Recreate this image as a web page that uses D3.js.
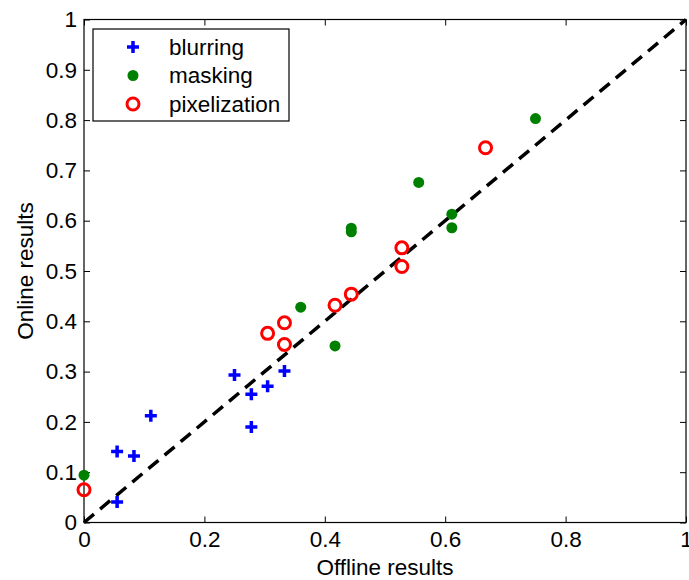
<!DOCTYPE html>
<html>
<head>
<meta charset="utf-8">
<script src="https://cdn.jsdelivr.net/npm/d3@7"></script>
<style>
  body { margin: 0; background: #fff; }
  text { font-family: "Liberation Sans", Arial, sans-serif; }
</style>
</head>
<body>
<svg id="drawing_region"></svg>
<script>
// series: offline (x) vs online (y) results
const blurringX = [0.055, 0.055, 0.083, 0.111, 0.25, 0.278, 0.278, 0.305, 0.333];
const blurringY = [0.041, 0.141, 0.132, 0.212, 0.293, 0.255, 0.190, 0.271, 0.301];
const maskingX = [0, 0.36, 0.417, 0.444, 0.444, 0.556, 0.611, 0.611, 0.75];
const maskingY = [0.094, 0.428, 0.351, 0.578, 0.585, 0.676, 0.613, 0.586, 0.803];
const pixelX = [0, 0.305, 0.333, 0.333, 0.417, 0.444, 0.528, 0.528, 0.667];
const pixelY = [0.065, 0.376, 0.397, 0.354, 0.432, 0.454, 0.546, 0.509, 0.745];
const xTicks = [0, 0.2, 0.4, 0.6, 0.8, 1];
const yTicks = [0, 0.1, 0.2, 0.3, 0.4, 0.5, 0.6, 0.7, 0.8, 0.9, 1];
const legendLabels = ['blurring', 'masking', 'pixelization'];

const width = 689, height = 580;
const margin = { left: 84, right: 3, top: 19.5, bottom: 57.5 };
const innerW = width - margin.left - margin.right;
const innerH = height - margin.top - margin.bottom;
const fontSize = '22.5px';

const svg = d3.select('#drawing_region')
    .attr('width', width)
    .attr('height', height);

const g = svg.append('g')
    .attr('transform', `translate(${margin.left}, ${margin.top})`);

const x = d3.scaleLinear().domain([0, 1]).range([0, innerW]);
const y = d3.scaleLinear().domain([0, 1]).range([innerH, 0]);

const fmt = d => d === 0 ? '0' : d === 1 ? '1' : d3.format('.1f')(d);

// axes with inward ticks on all four sides
const axisStyle = sel => {
    sel.select('.domain').remove();
    sel.selectAll('line').attr('stroke', '#000').attr('stroke-width', 1);
    sel.selectAll('text').attr('fill', '#000').style('font-size', fontSize);
};

g.append('g').attr('transform', `translate(0,${innerH})`)
    .call(d3.axisBottom(x).tickValues(xTicks).tickFormat(fmt).tickSizeInner(-6).tickSizeOuter(0).tickPadding(9))
    .call(axisStyle);
g.append('g')
    .call(d3.axisTop(x).tickValues(xTicks).tickFormat('').tickSizeInner(-6).tickSizeOuter(0))
    .call(axisStyle);
g.append('g')
    .call(d3.axisLeft(y).tickValues(yTicks).tickFormat(fmt).tickSizeInner(-6).tickSizeOuter(0).tickPadding(7))
    .call(axisStyle);
g.append('g').attr('transform', `translate(${innerW},0)`)
    .call(d3.axisRight(y).tickValues(yTicks).tickFormat('').tickSizeInner(-6).tickSizeOuter(0))
    .call(axisStyle);

g.append('rect')
    .attr('width', innerW).attr('height', innerH)
    .attr('fill', 'none').attr('stroke', '#000').attr('stroke-width', 1.2);

// diagonal reference
g.append('line')
    .attr('x1', x(0)).attr('y1', y(0))
    .attr('x2', x(1)).attr('y2', y(1))
    .attr('stroke', '#000').attr('stroke-width', 3.5)
    .attr('stroke-dasharray', '13,8');

const plus = (s) => `M${-s},0H${s}M0,${-s}V${s}`;

g.selectAll('.blur')
    .data(d3.zip(blurringX, blurringY))
    .enter().append('path')
    .attr('transform', d => `translate(${x(d[0])},${y(d[1])})`)
    .attr('d', plus(6))
    .attr('stroke', '#0000ff').attr('stroke-width', 3.5).attr('fill', 'none');

g.selectAll('.mask')
    .data(d3.zip(maskingX, maskingY))
    .enter().append('circle')
    .attr('cx', d => x(d[0])).attr('cy', d => y(d[1]))
    .attr('r', 5.5)
    .attr('fill', '#008000');

g.selectAll('.pix')
    .data(d3.zip(pixelX, pixelY))
    .enter().append('circle')
    .attr('cx', d => x(d[0])).attr('cy', d => y(d[1]))
    .attr('r', 6)
    .attr('fill', 'none').attr('stroke', '#ff0000').attr('stroke-width', 3);

// legend
const lg = svg.append('g').attr('transform', 'translate(93,29)');
lg.append('rect')
    .attr('width', 196).attr('height', 92)
    .attr('fill', '#fff').attr('stroke', '#000').attr('stroke-width', 1.2);

legendLabels.forEach((label, i) => {
    const cy = 18 + i * 28.5;
    const mx = 40;
    if (i === 0) {
        lg.append('path').attr('transform', `translate(${mx},${cy})`)
            .attr('d', plus(6)).attr('stroke', '#0000ff').attr('stroke-width', 3.5);
    } else if (i === 1) {
        lg.append('circle').attr('cx', mx).attr('cy', cy).attr('r', 5.5).attr('fill', '#008000');
    } else {
        lg.append('circle').attr('cx', mx).attr('cy', cy).attr('r', 6)
            .attr('fill', 'none').attr('stroke', '#ff0000').attr('stroke-width', 3);
    }
    lg.append('text')
        .attr('x', 76).attr('y', cy).attr('dy', '0.35em')
        .style('font-size', fontSize)
        .text(label);
});

// axis titles
svg.append('text')
    .attr('x', margin.left + innerW / 2).attr('y', 575)
    .attr('text-anchor', 'middle')
    .style('font-size', fontSize)
    .text('Offline results');

svg.append('text')
    .attr('transform', `translate(33, ${margin.top + innerH / 2}) rotate(-90)`)
    .attr('text-anchor', 'middle')
    .style('font-size', fontSize)
    .text('Online results');
</script>
</body>
</html>
